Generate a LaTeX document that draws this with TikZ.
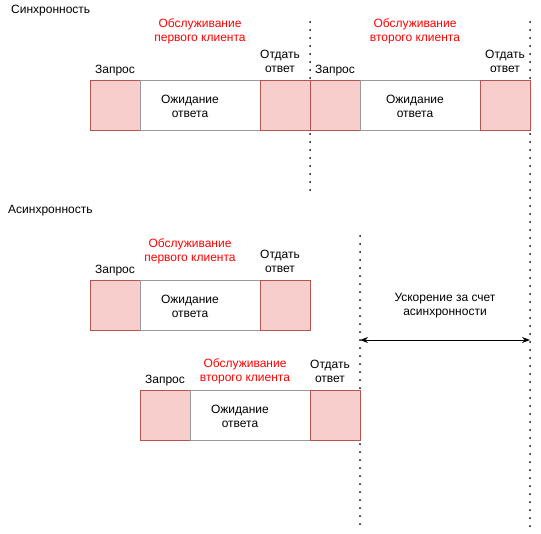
\documentclass[tikz,border=0pt]{standalone}
\usepackage{fontspec}
\setmainfont{Liberation Sans}
\usetikzlibrary{arrows.meta}
\definecolor{pinkfill}{HTML}{F8CECC}
\definecolor{pinkline}{HTML}{B85450}
\definecolor{grayline}{HTML}{999999}
\definecolor{redtext}{HTML}{FF0000}
\begin{document}
\begin{tikzpicture}[x=1pt,y=-1pt,
  every node/.style={font=\fontsize{12}{14}\selectfont, align=center, inner sep=0pt},
  pinkbox/.style={draw=pinkline, fill=pinkfill, line width=1pt, minimum width=50pt, minimum height=50pt},
  waitbox/.style={draw=grayline, fill=white, line width=1pt, minimum width=120pt, minimum height=50pt},
  redlbl/.style={text=redtext},
  dotline/.style={line width=2pt, dash pattern=on 0pt off 8pt, line cap=round},
  arr/.style={{Stealth[length=8pt,width=6pt]}-{Stealth[length=8pt,width=6pt]}, line width=1pt}
]
\useasboundingbox (0,0) rectangle (541,533);
% dotted lines
\coordinate (d1t) at (310,22); \coordinate (d1b) at (310,190);
\coordinate (d2t) at (530,22); \coordinate (d2b) at (530,530);
\coordinate (d3t) at (360,236); \coordinate (d3b) at (360,530);
\draw[dotline] (d1t) -- (d1b);
\draw[dotline] (d2t) -- (d2b);
\draw[dotline] (d3t) -- (d3b);
% titles
\node[anchor=west] (tsync) at (11,11) {Синхронность};
\node[anchor=west] (tasync) at (8,211) {Асинхронность};
% sync row
\node[pinkbox] (s1) at (115,105) {};
\node[waitbox] (s2) at (200,105) {};
\node[pinkbox] (s3) at (285,105) {};
\node[pinkbox] (s4) at (335,105) {};
\node[waitbox] (s5) at (420,105) {};
\node[pinkbox] (s6) at (505,105) {};
\node (ws2) at (190,106) {Ожидание\\ответа};
\node (ws5) at (415,106) {Ожидание\\ответа};
\node (ls1) at (115,71) {Запрос};
\node[redlbl] (ls2) at (200,31) {Обслуживание\\первого клиента};
\node (ls3) at (280,61) {Отдать\\ответ};
\node (ls4) at (335,71) {Запрос};
\node[redlbl] (ls5) at (415,31) {Обслуживание\\второго клиента};
\node (ls6) at (505,61) {Отдать\\ответ};
% async row 1
\node[pinkbox] (a1) at (115,305) {};
\node[waitbox] (a2) at (200,305) {};
\node[pinkbox] (a3) at (285,305) {};
\node (wa2) at (190,306) {Ожидание\\ответа};
\node (la1) at (115,271) {Запрос};
\node[redlbl] (la2) at (190,251) {Обслуживание\\первого клиента};
\node (la3) at (280,261) {Отдать\\ответ};
% async row 2
\node[pinkbox] (b1) at (165,415) {};
\node[waitbox] (b2) at (250,415) {};
\node[pinkbox] (b3) at (335,415) {};
\node (wb2) at (240,416) {Ожидание\\ответа};
\node (lb1) at (165,381) {Запрос};
\node[redlbl] (lb2) at (245,371) {Обслуживание\\второго клиента};
\node (lb3) at (330,371) {Отдать\\ответ};
% speed-up
\node (sp) at (445,306) {Ускорение за счет\\асинхронности};
\coordinate (al) at (360,340);
\coordinate (ar) at (530,340);
\draw[arr] (al) -- (ar);
\end{tikzpicture}
\end{document}
